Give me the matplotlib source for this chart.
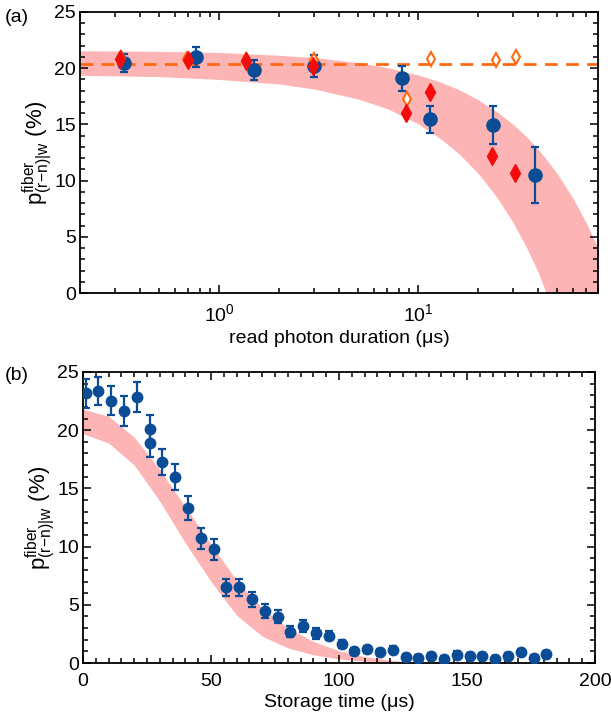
import numpy as np
import matplotlib
matplotlib.use("Agg")
import matplotlib.pyplot as plt
from matplotlib.ticker import MultipleLocator, LogLocator, NullFormatter

plt.rcParams['font.family'] = ['Liberation Sans', 'DejaVu Sans']
plt.rcParams['mathtext.fontset'] = 'custom'
plt.rcParams['mathtext.rm'] = 'Liberation Sans'
plt.rcParams['mathtext.it'] = 'Liberation Sans'
plt.rcParams['font.size'] = 14

BLUE = '#0B4C97'
RED = '#F20D0D'
ORANGE = '#FF6A10'
PINK = '#FDB4B4'

# ---- panel (a): retrieval vs read photon duration ----
dur_blue = [0.333, 0.765, 1.50, 3.0, 8.26, 11.44, 23.8, 38.8]
p_blue = [20.43, 21.0, 19.84, 20.2, 19.1, 15.45, 14.95, 10.5]
err_blue = [0.8, 0.86, 0.86, 0.95, 1.1, 1.23, 1.7, 2.5]

dur_red = [0.319, 0.695, 1.365, 2.95, 8.7, 11.4, 23.4, 30.6]
p_red = [20.85, 20.73, 20.62, 20.2, 16.04, 17.9, 12.2, 10.66]

dur_orange = [0.32, 0.69, 1.36, 2.98, 8.75, 11.55, 24.5, 31.0]
p_orange = [20.9, 20.8, 20.75, 20.75, 17.23, 20.82, 20.73, 20.97]

p_flat = 20.4

band_a_dur = [0.2, 0.5, 1, 2, 3, 5, 7, 10, 13, 16, 20, 25, 30, 35, 40, 44, 50, 60, 70, 80]
band_a_hi = [21.55, 21.5, 21.4, 21.15, 20.95, 20.5, 20.05, 19.4, 18.75, 18.1,
             17.2, 16.1, 15.0, 13.9, 12.8, 11.9, 10.6, 8.4, 6.2, 4.0]
band_a_lo = [19.37, 19.25, 19.0, 18.6, 18.15, 17.25, 16.4, 15.05, 13.7, 12.4,
             10.65, 8.45, 6.25, 4.05, 1.85, 0.0, 0.0, 0.0, 0.0, 0.0]

# ---- panel (b): retrieval vs storage time ----
t_store = [1, 6, 11, 16, 21, 26, 26, 31, 36, 41, 46, 51, 56, 61, 66, 71, 76, 81, 86,
           91, 96, 101, 106, 111, 116, 121, 126, 131, 136, 141, 146, 151, 156,
           161, 166, 171, 176, 181]
p_store = [23.17, 23.4, 22.54, 21.65, 22.88, 20.07, 18.93, 17.27, 16.0, 13.29, 10.71,
           9.79, 6.5, 6.5, 5.47, 4.5, 3.98, 2.69, 3.18, 2.55, 2.35, 1.63, 1.03, 1.17,
           0.94, 1.12, 0.49, 0.43, 0.6, 0.31, 0.69, 0.6, 0.6, 0.31, 0.6, 0.94, 0.43, 0.77]
err_store = [1.25, 1.2, 1.25, 1.25, 1.3, 1.2, 1.2, 1.15, 1.1, 1.03, 0.93, 0.9, 0.72,
             0.72, 0.67, 0.6, 0.57, 0.47, 0.5, 0.45, 0.4, 0.35, 0.3, 0.3, 0.3, 0.3,
             0.3, 0.3, 0.3, 0.3, 0.3, 0.3, 0.3, 0.3, 0.3, 0.3, 0.3, 0.3]

band_b_t = [0, 10, 20, 30, 40, 50, 60, 70, 80, 90, 100, 110, 120, 130]
band_b_hi = [21.8, 21.2, 19.4, 16.6, 13.4, 10.2, 7.1, 4.7, 3.0, 1.85, 1.05, 0.55, 0.25, 0.0]
band_b_lo = [19.7, 18.9, 17.0, 13.9, 10.3, 7.0, 4.1, 2.3, 1.3, 0.7, 0.35, 0.15, 0.05, 0.0]

fig = plt.figure(figsize=(6.11, 7.22), dpi=100)
ax1 = fig.add_axes([80 / 611, 1 - 293 / 722, 518 / 611, 281 / 722])
ax2 = fig.add_axes([83 / 611, 1 - 663 / 722, 512 / 611, 291 / 722])

ylab = r'$\mathregular{p^{fiber}_{(r\!-\!n)|w}}$ (%)'

# (a)
ax1.fill_between(band_a_dur, band_a_lo, band_a_hi, color=PINK, lw=0, zorder=1)
ax1.axhline(p_flat, color=ORANGE, lw=2.0, ls=(0, (4.6, 3)), zorder=2)
ax1.errorbar(dur_blue, p_blue, yerr=err_blue, fmt='o', color=BLUE, ms=9.5,
             elinewidth=1.6, capsize=3, capthick=1.6, zorder=3)
ax1.plot(dur_orange, p_orange, ls='none', marker='d', ms=7, mfc='white',
         mec=ORANGE, mew=1.5, zorder=4)
ax1.plot(dur_red, p_red, ls='none', marker='d', ms=9, color=RED, zorder=5)
ax1.set_xscale('log')
ax1.set_xlim(0.2, 80)
ax1.set_ylim(0, 25)
ax1.yaxis.set_major_locator(MultipleLocator(5))
ax1.yaxis.set_minor_locator(MultipleLocator(1))
ax1.xaxis.set_major_locator(LogLocator(base=10, numticks=10))
ax1.xaxis.set_minor_locator(LogLocator(base=10, subs=np.arange(2, 10), numticks=20))
ax1.xaxis.set_minor_formatter(NullFormatter())
ax1.set_xlabel('read photon duration (μs)', labelpad=4)
ax1.set_ylabel(ylab, fontsize=16, labelpad=0)

# (b)
ax2.fill_between(band_b_t, band_b_lo, band_b_hi, color=PINK, lw=0, zorder=1)
ax2.errorbar(t_store, p_store, yerr=err_store, fmt='o', color=BLUE, ms=7.5,
             elinewidth=1.6, capsize=3, capthick=1.6, zorder=3)
ax2.set_xlim(0, 200)
ax2.set_ylim(0, 25)
ax2.xaxis.set_major_locator(MultipleLocator(50))
ax2.xaxis.set_minor_locator(MultipleLocator(5))
ax2.yaxis.set_major_locator(MultipleLocator(5))
ax2.yaxis.set_minor_locator(MultipleLocator(1))
ax2.set_xlabel('Storage time (μs)', labelpad=3)
ax2.set_ylabel(ylab, fontsize=16, labelpad=0)

for ax in (ax1, ax2):
    for s in ax.spines.values():
        s.set_linewidth(1.3)
    ax.tick_params(which='both', direction='in', top=True, right=True, width=1.1)
    ax.tick_params(which='major', length=6, labelsize=14)
    ax.tick_params(axis='y', which='major', pad=3)
    ax.tick_params(axis='x', which='major', pad=7)
    ax.tick_params(which='minor', length=3.5)

fig.text(5 / 611, 1 - 17 / 722, '(a)', fontsize=14, va='center', ha='left')
fig.text(5 / 611, 1 - 375 / 722, '(b)', fontsize=14, va='center', ha='left')

fig.savefig('out.png', dpi=100)
